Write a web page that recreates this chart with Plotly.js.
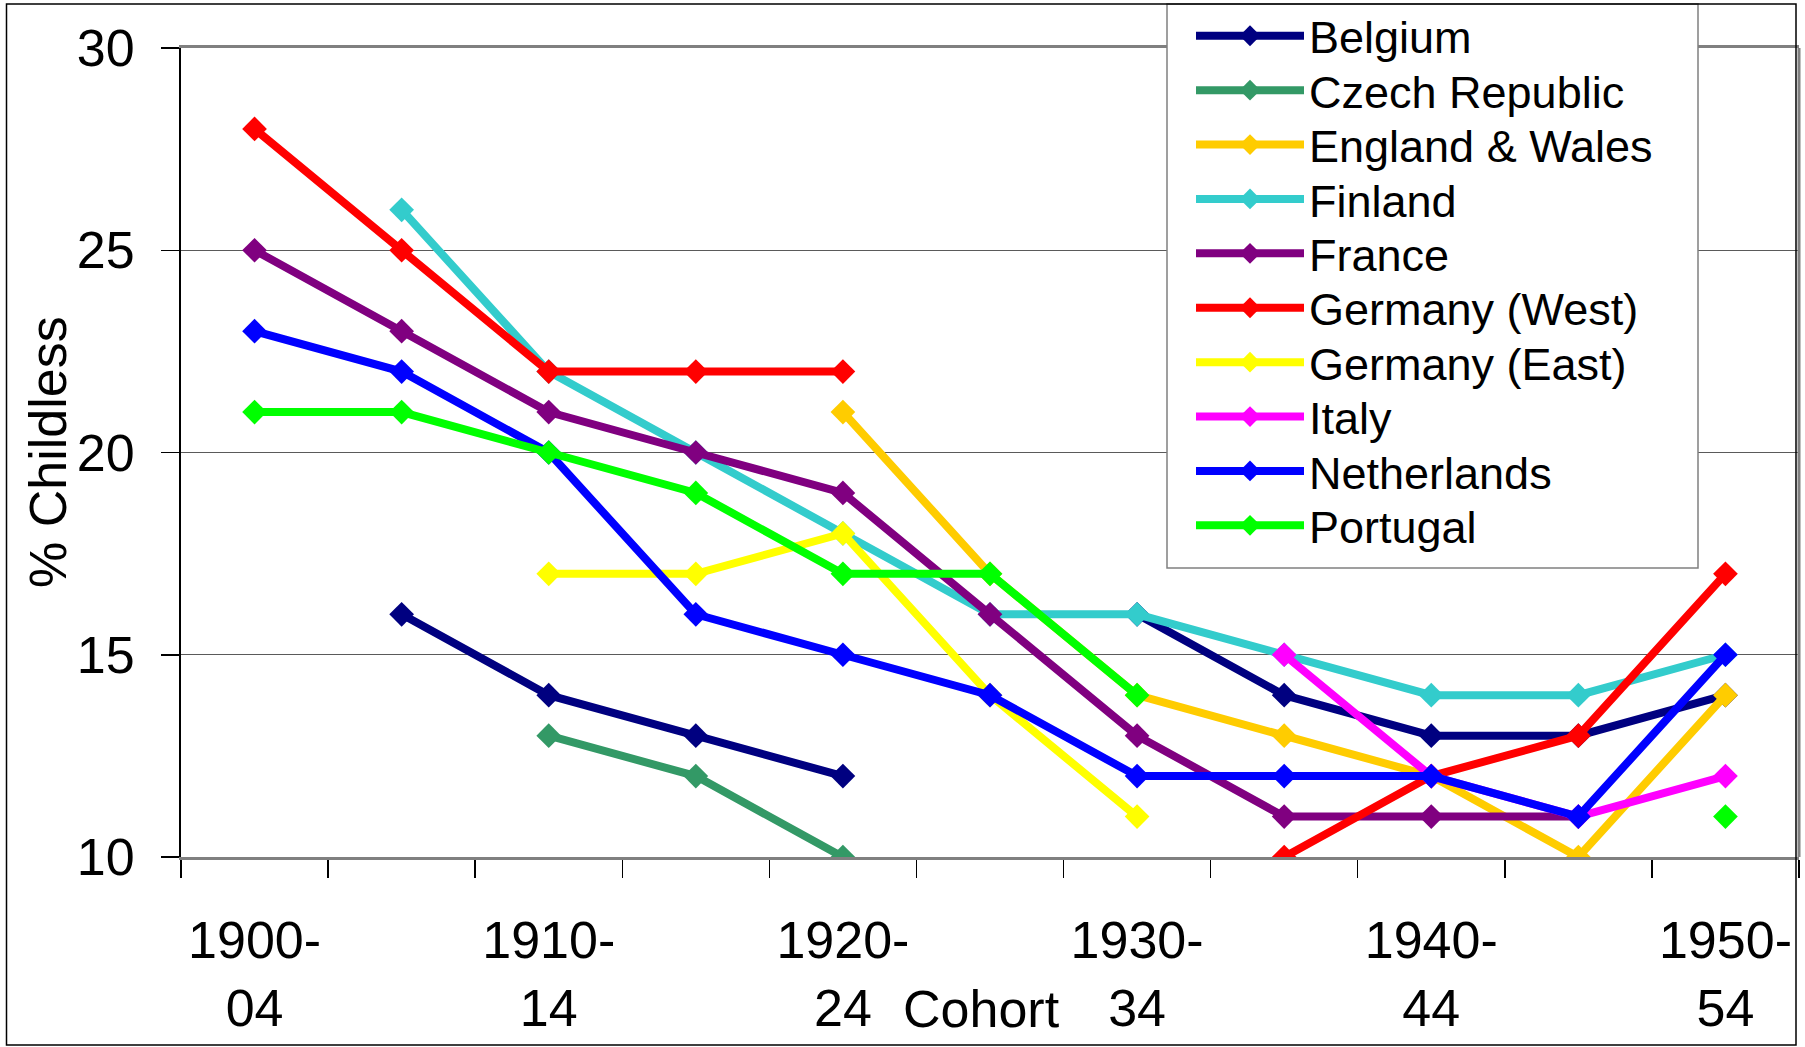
<!DOCTYPE html>
<html>
<head>
<meta charset="utf-8">
<script src="https://cdn.plot.ly/plotly-3.0.1.min.js"></script>
<style>
  html, body { margin: 0; padding: 0; background: #fff; }
  #chart { width: 1805px; height: 1047px; }
</style>
</head>
<body>
<div id="chart"></div>
<script>
// ---- Data ----
const cohorts = ["1900-04","1905-09","1910-14","1915-19","1920-24","1925-29","1930-34","1935-39","1940-44","1945-49","1950-54"];
const cohortTickText = ["1900-<br>04","","1910-<br>14","","1920-<br>24","","1930-<br>34","","1940-<br>44","","1950-<br>54"];
const yTickVals = [10, 15, 20, 25, 30];

const belgium      = [null, 16, 14, 13, 12, null, 16, 14, 13, 13, 14];
const czechRep     = [null, null, 13, 12, 10, null, null, null, null, null, null];
const englandWales = [null, null, null, null, 21, 17, 14, 13, 12, 10, 14];
const finland      = [null, 26, 22, 20, 18, 16, 16, 15, 14, 14, 15];
const france       = [25, 23, 21, 20, 19, 16, 13, 11, 11, 11, null];
const germanyWest  = [28, 25, 22, 22, 22, null, null, 10, 12, 13, 17];
const germanyEast  = [null, null, 17, 17, 18, 14, 11, null, null, null, null];
const italy        = [null, null, null, null, null, null, null, 15, 12, 11, 12];
const netherlands  = [23, 22, 20, 16, 15, 14, 12, 12, 12, 11, 15];
const portugal     = [21, 21, 20, 19, 17, 17, 14, null, null, null, 11];

const seriesNames  = ["Belgium","Czech Republic","England & Wales","Finland","France","Germany (West)","Germany (East)","Italy","Netherlands","Portugal"];
const seriesValues = [belgium, czechRep, englandWales, finland, france, germanyWest, germanyEast, italy, netherlands, portugal];
const seriesColors = ["#000080","#339966","#FFCC00","#33CCCC","#800080","#FF0000","#FFFF00","#FF00FF","#0000FF","#00FF00"];

// ---- Geometry (pixels) ----
const W = 1805, H = 1047;
const M = { l: 181, r: 6, t: 48, b: 190, autoexpand: false };
const PW = W - M.l - M.r, PH = H - M.t - M.b;
const px = x => (x - M.l) / PW;
const py = y => (H - M.b - y) / PH;

const FONT = "Liberation Sans, Arial, Helvetica, sans-serif";
const LEG_X = 1191, LEG_Y0 = 36, LEG_DY = 54.4;

const legendId = i => (i === 0 ? "legend" : "legend" + (i + 1));

const traces = seriesNames.map((name, i) => ({
  type: "scatter",
  mode: "lines+markers",
  name: name,
  legend: legendId(i),
  x: cohorts,
  y: seriesValues[i],
  connectgaps: false,
  line: { color: seriesColors[i], width: 8 },
  marker: { symbol: "diamond", size: 19, color: seriesColors[i], line: { width: 0 } },
  hoverinfo: "skip"
}));

const layout = {
  width: W, height: H,
  margin: M,
  paper_bgcolor: "#ffffff",
  plot_bgcolor: "#ffffff",
  font: { family: FONT, color: "#000000", size: 52 },
  showlegend: true,
  xaxis: {
    type: "category",
    categoryorder: "array",
    categoryarray: cohorts,
    range: [-0.5, cohorts.length - 0.5],
    autorange: false,
    tickmode: "array",
    tickvals: cohorts,
    ticktext: cohortTickText,
    tickson: "boundaries",
    ticks: "outside", ticklen: 18, tickwidth: 1.5, tickcolor: "#000",
    tickfont: { family: FONT, size: 52, color: "#000" },
    ticklabelstandoff: 36,
    showgrid: false,
    showline: true, linecolor: "#808080", linewidth: 3, mirror: true,
    zeroline: false,
    automargin: false,
    fixedrange: true
  },
  yaxis: {
    range: [10, 30],
    autorange: false,
    tickmode: "array",
    tickvals: yTickVals,
    ticks: "outside", ticklen: 18, tickwidth: 1.5, tickcolor: "#000",
    tickfont: { family: FONT, size: 52, color: "#000" },
    ticklabelstandoff: 16,
    showgrid: true, gridcolor: "#5a5a5a", gridwidth: 1,
    showline: true, linecolor: "#000", linewidth: 2,
    zeroline: false,
    automargin: false,
    fixedrange: true
  },
  shapes: [
    { type: "line", xref: "paper", yref: "paper", x0: 1, x1: 1, y0: 0, y1: 1,
      line: { color: "#808080", width: 3 }, layer: "above" },
    { type: "rect", xref: "paper", yref: "paper",
      x0: px(1167), x1: px(1698), y0: py(568), y1: py(4),
      fillcolor: "#ffffff", line: { color: "#808080", width: 1.5 }, layer: "above" },
    { type: "rect", xref: "paper", yref: "paper",
      x0: px(6.5), x1: px(1796), y0: py(1045), y1: py(4),
      fillcolor: "rgba(0,0,0,0)", line: { color: "#000", width: 1.5 }, layer: "above" }
  ],
  annotations: [
    { text: "Cohort", xref: "paper", yref: "paper", x: px(981.5), y: py(1009),
      xanchor: "center", yanchor: "middle", showarrow: false,
      font: { family: FONT, size: 52, color: "#000" } },
    { text: "% Childless", xref: "paper", yref: "paper", x: px(48), y: py(452),
      xanchor: "center", yanchor: "middle", textangle: -90, showarrow: false,
      font: { family: FONT, size: 52, color: "#000" } }
  ],
  hovermode: false
};

seriesNames.forEach((name, i) => {
  layout[legendId(i)] = {
    x: px(LEG_X), y: py(LEG_Y0 + i * LEG_DY), xanchor: "left", yanchor: "middle",
    bgcolor: "rgba(0,0,0,0)", borderwidth: 0,
    font: { family: FONT, size: 45, color: "#000" },
    itemwidth: 108, itemsizing: "trace"
  };
});

Plotly.newPlot("chart", traces, layout, { displayModeBar: false, staticPlot: true });
</script>
</body>
</html>
